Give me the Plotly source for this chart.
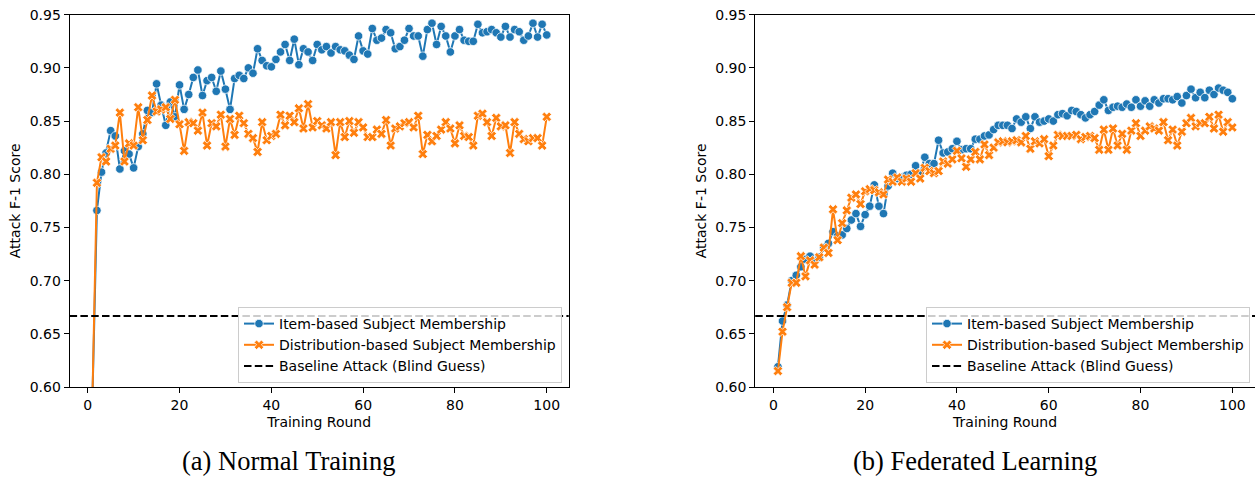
import plotly.graph_objects as go

W, H = 1255, 478

rounds = list(range(1, 101))

normal_item = [
    0.585, 0.766, 0.802, 0.820, 0.841, 0.836, 0.805, 0.822, 0.819, 0.806,
    0.826, 0.838, 0.860, 0.858, 0.885, 0.865, 0.846, 0.868, 0.854, 0.884,
    0.861, 0.875, 0.891, 0.898, 0.874, 0.888, 0.891, 0.878, 0.897, 0.880,
    0.861, 0.890, 0.893, 0.890, 0.900, 0.895, 0.918, 0.907, 0.902, 0.901,
    0.908, 0.915, 0.922, 0.907, 0.927, 0.903, 0.918, 0.915, 0.907, 0.922,
    0.917, 0.920, 0.914, 0.920, 0.917, 0.916, 0.912, 0.908, 0.930, 0.916,
    0.913, 0.937, 0.926, 0.928, 0.936, 0.933, 0.918, 0.920, 0.926, 0.937,
    0.930, 0.930, 0.911, 0.936, 0.942, 0.922, 0.939, 0.930, 0.915, 0.930,
    0.936, 0.926, 0.925, 0.925, 0.941, 0.933, 0.934, 0.936, 0.933, 0.929,
    0.939, 0.929, 0.936, 0.934, 0.926, 0.930, 0.942, 0.929, 0.941, 0.931,
]

normal_dist = [
    0.585, 0.792, 0.816, 0.812, 0.824, 0.827, 0.858, 0.812, 0.829, 0.827,
    0.863, 0.832, 0.851, 0.874, 0.859, 0.861, 0.863, 0.852, 0.870, 0.847,
    0.822, 0.849, 0.848, 0.841, 0.858, 0.827, 0.848, 0.845, 0.856, 0.826,
    0.852, 0.837, 0.855, 0.848, 0.838, 0.834, 0.821, 0.849, 0.832, 0.836,
    0.838, 0.856, 0.846, 0.855, 0.849, 0.862, 0.843, 0.866, 0.844, 0.850,
    0.846, 0.843, 0.849, 0.818, 0.849, 0.835, 0.850, 0.839, 0.849, 0.844,
    0.835, 0.835, 0.842, 0.838, 0.851, 0.827, 0.843, 0.845, 0.848, 0.849,
    0.844, 0.855, 0.819, 0.837, 0.831, 0.836, 0.842, 0.849, 0.843, 0.829,
    0.846, 0.836, 0.835, 0.827, 0.855, 0.857, 0.849, 0.836, 0.853, 0.845,
    0.846, 0.820, 0.849, 0.838, 0.833, 0.831, 0.834, 0.834, 0.827, 0.854,
]

fed_item = [
    0.619, 0.662, 0.677, 0.700, 0.705, 0.713, 0.720, 0.723, 0.718, 0.722,
    0.731, 0.735, 0.746, 0.742, 0.743, 0.749, 0.757, 0.763, 0.751, 0.762,
    0.770, 0.790, 0.770, 0.763, 0.789, 0.801, 0.796, 0.797, 0.799, 0.800,
    0.808, 0.801, 0.816, 0.810, 0.810, 0.832, 0.820, 0.821, 0.824, 0.831,
    0.823, 0.824, 0.824, 0.833, 0.833, 0.836, 0.837, 0.842, 0.846, 0.846,
    0.846, 0.843, 0.852, 0.849, 0.854, 0.843, 0.854, 0.849, 0.850, 0.852,
    0.850, 0.856, 0.857, 0.855, 0.860, 0.859, 0.856, 0.853, 0.856, 0.859,
    0.865, 0.870, 0.860, 0.863, 0.864, 0.863, 0.866, 0.863, 0.870, 0.864,
    0.869, 0.864, 0.870, 0.867, 0.871, 0.871, 0.870, 0.873, 0.867, 0.874,
    0.880, 0.872, 0.877, 0.872, 0.879, 0.875, 0.881, 0.879, 0.877, 0.871,
]

fed_dist = [
    0.615, 0.652, 0.675, 0.698, 0.698, 0.723, 0.704, 0.719, 0.715, 0.722,
    0.731, 0.726, 0.767, 0.738, 0.754, 0.766, 0.778, 0.781, 0.772, 0.784,
    0.786, 0.785, 0.783, 0.781, 0.795, 0.793, 0.797, 0.793, 0.796, 0.793,
    0.801, 0.796, 0.806, 0.803, 0.801, 0.803, 0.812, 0.810, 0.814, 0.822,
    0.815, 0.807, 0.814, 0.821, 0.814, 0.828, 0.818, 0.825, 0.830, 0.831,
    0.830, 0.831, 0.832, 0.830, 0.836, 0.824, 0.831, 0.829, 0.833, 0.817,
    0.827, 0.837, 0.836, 0.836, 0.836, 0.837, 0.833, 0.835, 0.836, 0.834,
    0.823, 0.842, 0.823, 0.843, 0.827, 0.838, 0.823, 0.841, 0.848, 0.836,
    0.841, 0.845, 0.843, 0.841, 0.849, 0.832, 0.842, 0.827, 0.840, 0.848,
    0.853, 0.845, 0.848, 0.848, 0.854, 0.843, 0.856, 0.840, 0.849, 0.844,
]

baseline = 2 / 3

series_names = [
    "Item-based Subject Membership",
    "Distribution-based Subject Membership",
    "Baseline Attack (Blind Guess)",
]
captions = ["(a) Normal Training", "(b) Federated Learning"]
x_ticks = [0, 20, 40, 60, 80, 100]
y_ticks = [0.60, 0.65, 0.70, 0.75, 0.80, 0.85, 0.90, 0.95]

BLUE = "#1f77b4"
ORANGE = "#ff7f0e"
FONT = "DejaVu Sans"
FS = 14
DASH = "7.5px,3.3px"

# pixel geometry of the two axes boxes
ax_top, ax_bot = 14.7, 387.0
L0, L1 = 69.6, 568.7
R0, R1 = 755.2, 1255.0
px_per_round = 4.59
xmin = -3.95

fig = go.Figure()

panels = [
    ("x", "y", "legend", normal_item, normal_dist),
    ("x2", "y2", "legend2", fed_item, fed_dist),
]
for xa, ya, lg, item, dist in panels:
    fig.add_shape(type="line", xref=f"{xa} domain", yref=ya,
                  x0=0, x1=1, y0=baseline, y1=baseline,
                  line=dict(color="black", width=2, dash=DASH),
                  layer="above")
    fig.add_trace(go.Scatter(
        x=rounds, y=item, mode="lines+markers", name=series_names[0],
        xaxis=xa, yaxis=ya, legend=lg,
        line=dict(color=BLUE, width=2),
        marker=dict(symbol="circle", size=8.5, color=BLUE,
                    line=dict(color="white", width=0.75)),
    ))
    fig.add_trace(go.Scatter(
        x=rounds, y=dist, mode="lines+markers", name=series_names[1],
        xaxis=xa, yaxis=ya, legend=lg,
        line=dict(color=ORANGE, width=2),
        marker=dict(symbol="x", size=8.5, color=ORANGE,
                    line=dict(color="white", width=0.75)),
    ))
    fig.add_trace(go.Scatter(
        x=[None], y=[None], mode="lines", name=series_names[2],
        xaxis=xa, yaxis=ya, legend=lg,
        line=dict(color="black", width=2, dash=DASH),
    ))

ydom = [1 - ax_bot / H, 1 - ax_top / H]

def xaxis(p0, p1):
    return dict(
        domain=[p0 / W, p1 / W],
        range=[xmin, xmin + (p1 - p0) / px_per_round],
        tickmode="array", tickvals=x_ticks,
        ticks="outside", ticklen=5, tickwidth=1, tickcolor="black",
        showline=True, linecolor="black", linewidth=1, mirror=True,
        showgrid=False, zeroline=False,
        tickfont=dict(family=FONT, size=FS, color="black"),
        title=dict(text="Training Round", standoff=5,
                   font=dict(family=FONT, size=FS, color="black")),
        automargin=False,
    )

def yaxis(anchor):
    return dict(
        domain=ydom, anchor=anchor,
        range=[0.60, 0.95],
        tickmode="array", tickvals=y_ticks, tickformat=".2f",
        ticks="outside", ticklen=5, tickwidth=1, tickcolor="black",
        showline=True, linecolor="black", linewidth=1, mirror=True,
        showgrid=False, zeroline=False,
        tickfont=dict(family=FONT, size=FS, color="black"),
        title=dict(text="Attack F-1 Score", standoff=5,
                   font=dict(family=FONT, size=FS, color="black")),
        automargin=False,
    )

legend_style = dict(
    bgcolor="rgba(255,255,255,0.8)", bordercolor="#cccccc", borderwidth=1,
    font=dict(family=FONT, size=FS, color="black"),
    xanchor="right", yanchor="bottom", tracegroupgap=0,
    itemwidth=30,
)

fig.update_layout(
    width=W, height=H,
    margin=dict(l=0, r=0, t=0, b=0),
    paper_bgcolor="white", plot_bgcolor="white",
    font=dict(family=FONT, size=FS, color="black"),
    xaxis=dict(**xaxis(L0, L1), anchor="y"),
    yaxis=yaxis("x"),
    xaxis2=dict(**xaxis(R0, R1), anchor="y2"),
    yaxis2=yaxis("x2"),
    legend=dict(**legend_style, x=562 / W, y=1 - 383 / H),
    legend2=dict(**legend_style, x=1250 / W, y=1 - 383 / H),
    showlegend=True,
)

caption_px = [288, 974.5]
for cx, txt in zip(caption_px, captions):
    fig.add_annotation(
        text=txt, x=cx / W, y=1 - 476.5 / H, xref="paper", yref="paper",
        xanchor="center", yanchor="bottom", showarrow=False,
        borderpad=0,
        font=dict(family="Liberation Serif", size=26.5, color="black"),
    )

fig.write_html("out.html")
